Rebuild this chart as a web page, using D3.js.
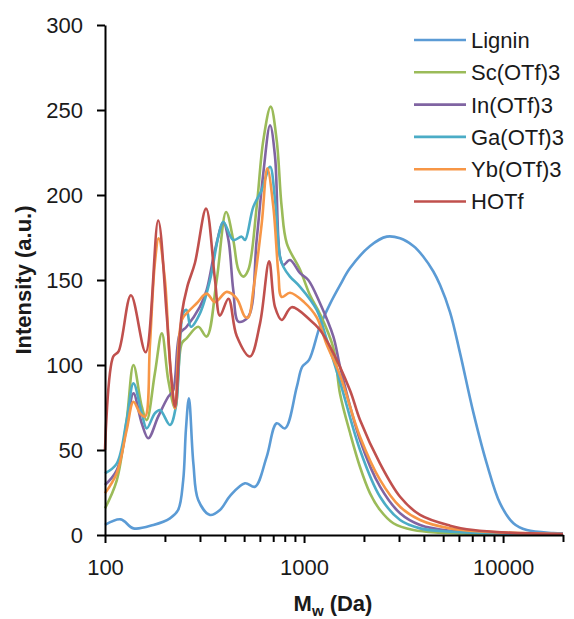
<!DOCTYPE html>
<html>
<head>
<meta charset="utf-8">
<script src="https://cdn.jsdelivr.net/npm/d3@7"></script>
<style>
  html, body { margin: 0; padding: 0; background: #fff; }
  svg { display: block; }
  text { font-family: "Liberation Sans", Arial, sans-serif; fill: #1a1a1a; }
</style>
</head>
<body>
<svg id="chart" width="574" height="619"></svg>
<script>
// ---- Data (Mw in Da, intensity in a.u.) ----
const seriesNames = ["Lignin", "Sc(OTf)3", "In(OTf)3", "Ga(OTf)3", "Yb(OTf)3", "HOTf"];
const seriesColors = ["#5B9BD5", "#9BBB59", "#8064A2", "#4BACC6", "#F79646", "#C0504D"];

const lignin = [[100,5.9],[120,9.2],[139,3.9],[175,5.9],[212,9.8],[233,14.7],[247,32],[255,62],[264,80.4],[278,42],[294,20.6],[337,11.8],[378,14.7],[425,23],[505,30.4],[567,28.4],[649,46],[729,65.7],[803,62.7],[919,87],[980,99],[1060,103],[1203,123],[1351,136],[1517,147],[1703,157],[2146,170],[2604,175.5],[3037,174.5],[3542,170],[3960,164],[4463,155],[4824,147],[5416,131],[6078,107],[7093,72],[8281,42],[9660,18.6],[11270,6.9],[13160,2.9],[17840,1.2],[20000,1]];
const sc = [[100,15.7],[114.5,32],[128.5,67.6],[139,100],[153,75.5],[162,67.6],[178,95],[193,118.6],[208,91],[225,74.5],[243,112.7],[257,115.7],[294,122.5],[324,116.7],[364,150],[406,190],[441,173.5],[468,156],[495,152],[525,156],[578,193],[624,232],[680,252],[729,232],[772,193],[819,171.6],[955,156],[1072,141],[1203,130],[1404,110],[1517,83],[1703,60],[1911,40],[2146,24.5],[2409,14.7],[2810,6.9],[3542,2.9],[4824,1.4],[20000,0.3]];
const inOTf = [[100,29.4],[114.5,38],[128.5,63.7],[139,83.3],[153,65.7],[165,56.9],[185,69.6],[208,81.4],[220,85],[238,118.6],[257,122.5],[300,134.3],[324,144],[357,167.6],[393,184],[417,173.5],[441,144],[468,125.5],[525,128.4],[578,173.5],[624,212.7],[675,241],[715,222.5],[757,163.7],[787,158.8],[850,161.8],[955,154],[1050,150],[1203,136.3],[1404,116.7],[1517,99],[1911,55.9],[2409,28.4],[3037,12.8],[3828,5.9],[5416,2.5],[20000,0.3]];
const ga = [[100,36.3],[114.5,42],[128.5,67.6],[139,89.2],[153,71.6],[162,62.7],[178,71.6],[189,73.5],[212,64.7],[227,75.5],[247,130.4],[257,132.4],[270,122.5],[300,130.4],[337,150],[371,175.5],[393,184.3],[441,173.5],[486,175.5],[505,173.5],[556,193],[613,203],[675,216.6],[715,197],[757,163.7],[787,157.8],[850,152],[955,146],[1158,132.4],[1300,115],[1517,90],[1911,50],[2409,22.5],[3037,8.8],[3828,3.9],[5416,2],[20000,0.3]];
const yb = [[100,24.5],[114.5,36.3],[128.5,61.8],[139,78.4],[150,71.6],[159,69.6],[168,110.8],[178,159.8],[186,174.5],[200,150],[212,101],[225,74.5],[243,126.5],[262,131.4],[289,136.3],[324,142],[357,137],[409,143],[459,139],[505,128.4],[525,128],[556,144],[613,183.3],[654,215.7],[701,193],[743,154],[772,140],[850,142.5],[1000,137],[1158,128],[1300,112],[1517,94],[1911,57.8],[2409,32.4],[3037,16.6],[3828,8.8],[5416,3.9],[20000,0.5]];
const hotf = [[100,50],[110,105],[117,108],[135,141],[160,107.5],[185,185],[204,130],[216,91],[225,75.5],[243,130],[259,146],[283,160],[322,192],[357,150],[378,129],[417,139],[459,117],[535,105],[601,124.5],[668,161],[715,134],[772,126.5],[867,134],[1072,126.5],[1203,120.6],[1351,110.8],[1703,85],[1911,67.6],[2409,42],[3037,22.5],[3828,11.8],[5416,5.5],[7093,2.9],[10470,1.4],[20000,0.5]];

const seriesData = [lignin, sc, inOTf, ga, yb, hotf];

const xMajorTicks = [100, 1000, 10000];
const xMinorTicks = [200,300,400,500,600,700,800,900,2000,3000,4000,5000,6000,7000,8000,9000,20000];
const yTicks = [0, 50, 100, 150, 200, 250, 300];

// ---- Drawing ----
const svg = d3.select("#chart");
const x = d3.scaleLog().domain([100, 20000]).range([105, 563]);
const y = d3.scaleLinear().domain([0, 300]).range([535, 25]);

const line = d3.line()
  .x(d => x(d[0]))
  .y(d => y(d[1]))
  .curve(d3.curveCatmullRom.alpha(0.5));

const plot = svg.append("g");
seriesData.forEach((data, i) => {
  plot.append("path")
    .datum(data)
    .attr("fill", "none")
    .attr("stroke", seriesColors[i])
    .attr("stroke-width", 2.6)
    .attr("stroke-linejoin", "round")
    .attr("d", line);
});

// X axis: minor ticks
svg.append("g")
  .attr("transform", "translate(0,535)")
  .call(d3.axisBottom(x).tickValues(xMinorTicks).tickSize(7).tickFormat(""))
  .call(g => g.select(".domain").remove())
  .call(g => g.selectAll("line").attr("stroke", "#000").attr("stroke-width", 2));

// X axis: major ticks + labels
svg.append("g")
  .attr("transform", "translate(0,535)")
  .call(d3.axisBottom(x).tickValues(xMajorTicks).tickSize(8).tickSizeOuter(0).tickPadding(16).tickFormat(d3.format("d")))
  .call(g => g.select(".domain").attr("stroke", "#000").attr("stroke-width", 2))
  .call(g => g.selectAll("line").attr("stroke", "#000").attr("stroke-width", 2))
  .call(g => g.selectAll("text").attr("font-size", 22).attr("font-family", "Liberation Sans, Arial, sans-serif").attr("fill", "#1a1a1a"));

// Y axis
svg.append("g")
  .attr("transform", "translate(105,0)")
  .call(d3.axisLeft(y).tickValues(yTicks).tickSize(8).tickSizeOuter(0).tickPadding(14))
  .call(g => g.select(".domain").attr("stroke", "#000").attr("stroke-width", 2))
  .call(g => g.selectAll("line").attr("stroke", "#000").attr("stroke-width", 2))
  .call(g => g.selectAll("text").attr("font-size", 22).attr("font-family", "Liberation Sans, Arial, sans-serif").attr("fill", "#1a1a1a"));

// Axis titles
const xt = svg.append("text")
  .attr("x", 333).attr("y", 611)
  .attr("text-anchor", "middle")
  .attr("font-size", 22).attr("font-weight", "bold");
xt.append("tspan").text("M");
xt.append("tspan").text("w").attr("font-size", 15).attr("dy", 5);
xt.append("tspan").text(" (Da)").attr("dy", -5);

svg.append("text")
  .attr("transform", "translate(31,280) rotate(-90)")
  .attr("text-anchor", "middle")
  .attr("font-size", 22).attr("font-weight", "bold")
  .text("Intensity (a.u.)");

// Legend
const legend = svg.append("g");
seriesNames.forEach((name, i) => {
  const ly = 40 + i * 32.3;
  legend.append("line")
    .attr("x1", 414).attr("x2", 466)
    .attr("y1", ly).attr("y2", ly)
    .attr("stroke", seriesColors[i]).attr("stroke-width", 2.6);
  legend.append("text")
    .attr("x", 471).attr("y", ly).attr("dy", "0.36em")
    .attr("font-size", 22)
    .text(name);
});
</script>
</body>
</html>
